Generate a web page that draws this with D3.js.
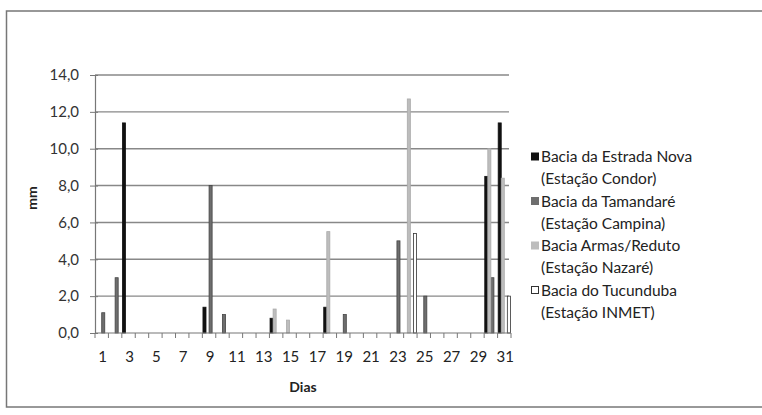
<!DOCTYPE html>
<html lang="pt">
  <head>
    <meta charset="UTF-8" />
    <title>Precipitação diária</title>
    <script src="https://d3js.org/d3.v7.min.js"></script>
    <style>
      body { margin: 0; background: #fff; }
      text { font-family: Lato, "Open Sans", sans-serif; fill: #222; }
    </style>
  </head>
  <body>
    <div id="chart"></div>
    <script>
      var days = d3.range(1, 32);
      var dayLabels = days.filter(function (d) { return d % 2 === 1; });
      var yTicks = [0, 2, 4, 6, 8, 10, 12, 14];

      var seriesNames = [
        ["Bacia da Estrada Nova", "(Estação Condor)"],
        ["Bacia da Tamandaré", "(Estação Campina)"],
        ["Bacia Armas/Reduto", "(Estação Nazaré)"],
        ["Bacia do Tucunduba", "(Estação INMET)"],
      ];

      // mm por dia (1..31)
      var estradaNova = [0, 0, 11.4, 0, 0, 0, 0, 0, 1.4, 0, 0, 0, 0, 0.8, 0, 0, 0, 1.4, 0, 0, 0, 0, 0, 0, 0, 0, 0, 0, 0, 8.5, 11.4];
      var tamandare = [1.1, 3.0, 0, 0, 0, 0, 0, 0, 8.0, 1.0, 0, 0, 0, 0, 0, 0, 0, 0, 1.0, 0, 0, 0, 5.0, 0, 2.0, 0, 0, 0, 0, 3.0, 0];
      var armasReduto = [0, 0, 0, 0, 0, 0, 0, 0, 0, 0, 0, 0, 0, 1.3, 0.7, 0, 0, 5.5, 0, 0, 0, 0, 0, 12.7, 0, 0, 0, 0, 0, 10.0, 8.4];
      var tucunduba = [0, 0, 0, 0, 0, 0, 0, 0, 0, 0, 0, 0, 0, 0, 0, 0, 0, 0, 0, 0, 0, 0, 0, 5.4, 0, 0, 0, 0, 0, 0, 2.0];

      var series = [estradaNova, tamandare, armasReduto, tucunduba];
      var fills = ["#111", "#6e6e6e", "#bdbdbd", "#fff"];
      var strokes = ["#111", "#444", "#aaa", "#333"];
      // posição de cada série dentro do grupo do dia
      var slot = [0, 2, 1, 3];

      var svg = d3
        .select("#chart")
        .append("svg")
        .attr("width", 762)
        .attr("height", 415);

      // moldura
      svg
        .append("rect")
        .attr("x", 6.5)
        .attr("y", 11)
        .attr("width", 770)
        .attr("height", 396)
        .attr("fill", "none")
        .attr("stroke", "#777")
        .attr("stroke-width", 1.5);

      var plotLeft = 95, plotRight = 511, plotTop = 75, plotBottom = 333;

      var x = d3.scaleBand().domain(days).range([plotLeft, plotRight]).padding(0);
      var x1 = d3
        .scaleBand()
        .domain([0, 1, 2, 3])
        .range([0.6, x.bandwidth() - 0.6]);
      var y = d3.scaleLinear().domain([0, 14]).range([plotBottom, plotTop]);

      // grade
      svg
        .append("g")
        .selectAll("line")
        .data(yTicks.slice(1))
        .join("line")
        .attr("x1", plotLeft)
        .attr("x2", plotRight - 2)
        .attr("y1", function (d) { return y(d); })
        .attr("y2", function (d) { return y(d); })
        .attr("stroke", "#888")
        .attr("stroke-width", 1.4);

      // eixo y
      var yAxis = svg
        .append("g")
        .attr("transform", "translate(" + plotLeft + ",0)")
        .call(
          d3
            .axisLeft(y)
            .tickValues(yTicks)
            .tickSize(5)
            .tickPadding(11)
            .tickFormat(function (d) { return d.toFixed(1).replace(".", ","); })
        );
      yAxis.select(".domain").attr("stroke", "#777").attr("stroke-width", 1.2);
      yAxis.selectAll(".tick line").attr("stroke", "#777").attr("x2", -5).attr("x1", 3);
      yAxis.selectAll("text").style("font-size", "15px").style("fill", "#333");

      // barras
      series.forEach(function (vals, s) {
        svg
          .append("g")
          .selectAll("rect")
          .data(days)
          .join("rect")
          .attr("x", function (d) { return x(d) + x1(slot[s]); })
          .attr("y", function (d) { return y(vals[d - 1]); })
          .attr("width", x1.bandwidth())
          .attr("height", function (d) { return plotBottom - y(vals[d - 1]); })
          .attr("fill", fills[s])
          .attr("stroke", strokes[s])
          .attr("stroke-width", 0.8)
          .style("display", function (d) { return vals[d - 1] > 0 ? null : "none"; });
      });

      // eixo x
      svg
        .append("line")
        .attr("x1", plotLeft)
        .attr("x2", plotRight)
        .attr("y1", plotBottom)
        .attr("y2", plotBottom)
        .attr("stroke", "#777")
        .attr("stroke-width", 1.2);

      svg
        .append("g")
        .selectAll("line")
        .data(days.concat([32]))
        .join("line")
        .attr("x1", function (d) { return d === 32 ? plotRight : x(d); })
        .attr("x2", function (d) { return d === 32 ? plotRight : x(d); })
        .attr("y1", plotBottom)
        .attr("y2", plotBottom + 5)
        .attr("stroke", "#777");

      svg
        .append("g")
        .selectAll("text")
        .data(dayLabels)
        .join("text")
        .attr("x", function (d) { return x(d) + x.bandwidth() / 2 + 1; })
        .attr("y", 362)
        .attr("text-anchor", "middle")
        .style("font-size", "15px")
        .text(function (d) { return d; });

      svg
        .append("text")
        .attr("x", (plotLeft + plotRight) / 2)
        .attr("y", 392)
        .attr("text-anchor", "middle")
        .style("font-size", "14px")
        .style("font-weight", "bold")
        .text("Dias");

      svg
        .append("text")
        .attr("transform", "translate(37,198) rotate(-90)")
        .attr("text-anchor", "middle")
        .style("font-size", "14px")
        .style("font-weight", "bold")
        .text("mm");

      // legenda
      var legend = svg.append("g").attr("transform", "translate(531,0)");
      seriesNames.forEach(function (names, s) {
        var y0 = 158 + s * 44.5;
        legend
          .append("rect")
          .attr("x", 0.5)
          .attr("y", y0 - 5)
          .attr("width", 7)
          .attr("height", 7)
          .attr("fill", fills[s])
          .attr("stroke", s === 3 ? "#333" : fills[s]);
        legend
          .append("text")
          .attr("x", 10)
          .attr("y", y0 + 4)
          .style("font-size", "15.5px")
          .text(names[0]);
        legend
          .append("text")
          .attr("x", 10)
          .attr("y", y0 + 26)
          .style("font-size", "15.5px")
          .text(names[1]);
      });
    </script>
  </body>
</html>
